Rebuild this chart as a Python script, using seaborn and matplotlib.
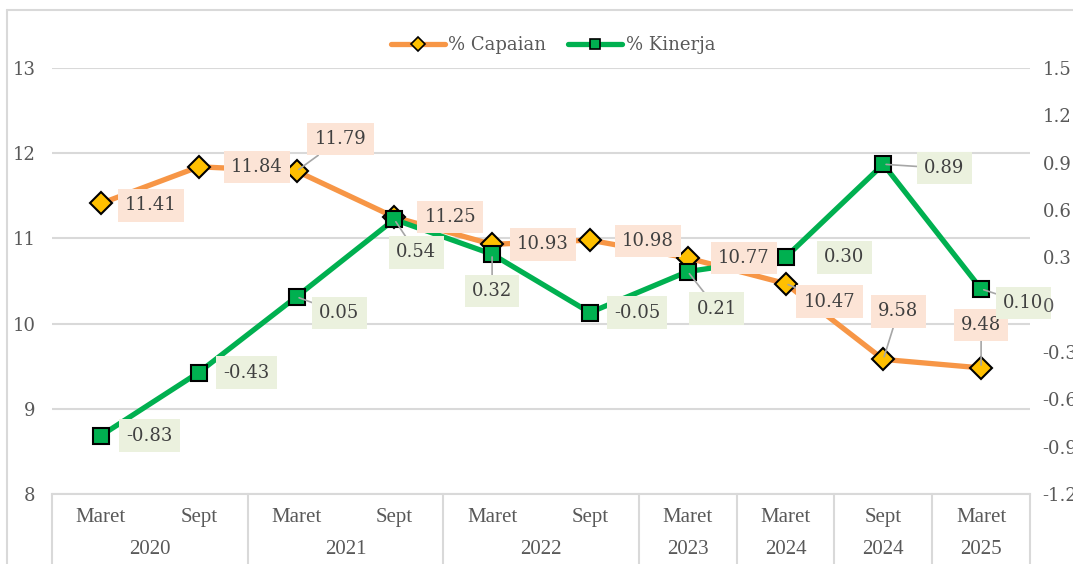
"""Capaian vs Kinerja, Maret 2020 - Maret 2025."""

import matplotlib.pyplot as plt
import matplotlib.transforms as mtransforms
import numpy as np
import pandas as pd
import seaborn as sns
from matplotlib.lines import Line2D

bulan = ["Maret", "Sept", "Maret", "Sept", "Maret", "Sept", "Maret", "Maret", "Sept", "Maret"]
grup_tahun = ["2020", "2021", "2022", "2023", "2024", "2024", "2025"]
grup_jumlah = [2, 2, 2, 1, 1, 1, 1]
capaian = [11.41, 11.84, 11.79, 11.25, 10.93, 10.98, 10.77, 10.47, 9.58, 9.48]
kinerja = [-0.83, -0.43, 0.05, 0.54, 0.32, -0.05, 0.21, 0.30, 0.89, 0.10]

left_ticks = [8, 9, 10, 11, 12, 13]
right_ticks = [-1.2, -0.9, -0.6, -0.3, 0.0, 0.3, 0.6, 0.9, 1.2, 1.5]
right_tick_labels = ["-1.2", "-0.9", "-0.6", "-0.3", "0", "0.3", "0.6", "0.9", "1.2", "1.5"]

# label offsets in pixels (dx, dy downwards) and whether a leader line is drawn
CAP_OFFSETS = [(50, 2), (58, 0), (44, -32), (56, 0), (51, 0), (58, 1), (56, 0), (44, 18), (15, -48), (0, -43)]
CAP_LEADER = [False, False, True, False, False, False, False, True, True, True]
KIN_OFFSETS = [(49, 0), (48, 0), (43, 16), (22, 33), (0, 37), (47, 0), (29, 37), (59, 0), (61, 4), (42, 14)]
KIN_LEADER = [False, False, True, True, True, False, True, False, True, True]

ORANGE = "#F79646"
GOLD = "#FFC000"
GREEN = "#00B050"
GRID = "#D9D9D9"
TEXT = "#404040"

sns.set_theme(style="white")
plt.rcParams["font.family"] = ["DejaVu Serif"]

W, H = 1073, 564
fig = plt.figure(figsize=(W / 100, H / 100), dpi=100)
ax = fig.add_axes([52 / W, 70 / H, 978 / W, 426 / H])
ax2 = ax.twinx()
ax3 = ax.twinx()
ax.set_zorder(1)
ax2.set_zorder(2)
ax3.set_zorder(3)
for a in (ax2, ax3):
    a.patch.set_visible(False)

df = pd.DataFrame({"pos": np.arange(len(bulan)), "capaian": capaian, "kinerja": kinerja})

sns.lineplot(
    data=df, x="pos", y="capaian", ax=ax, sort=False, color=ORANGE, linewidth=3.8,
    marker="D", markersize=11, markerfacecolor=GOLD, markeredgecolor="black", markeredgewidth=1.5,
)
sns.lineplot(
    data=df, x="pos", y="kinerja", ax=ax2, sort=False, color=GREEN, linewidth=3.8,
    marker="s", markersize=12, markerfacecolor=GREEN, markeredgecolor="black", markeredgewidth=1.5,
)

ax.set_xlim(-0.5, len(bulan) - 0.5)
ax.set_ylim(8, 13)
ax2.set_ylim(-1.2, 1.5)
ax3.set_ylim(-1.2, 1.5)

ax.set_yticks(left_ticks)
ax.set_yticklabels([str(t) for t in left_ticks])
ax.tick_params(axis="y", length=0, pad=12, labelsize=13, labelcolor="#595959")
ax.set_xticks([])
ax.set_xlabel("")
ax.set_ylabel("")
ax.yaxis.grid(True, color=GRID, linewidth=1.5)
ax.set_axisbelow(True)
for name, spine in ax.spines.items():
    spine.set_visible(name == "bottom")
ax.spines["bottom"].set_color(GRID)
ax.spines["bottom"].set_linewidth(1.5)

for a in (ax2, ax3):
    a.set_ylabel("")
    a.set_xticks([])
    for spine in a.spines.values():
        spine.set_visible(False)
ax2.set_yticks([])
ax3.set_yticks(right_ticks)
ax3.set_yticklabels(right_tick_labels)
ax3.tick_params(axis="y", length=0, pad=9, labelsize=13, labelcolor="#595959")


def add_labels(values, src_ax, offsets, leaders, fill):
    for i, v in enumerate(values):
        dx, dy = offsets[i]
        ax2.annotate(
            f"{v:.2f}", xy=(i, v), xycoords=src_ax.transData,
            xytext=(dx * 0.72, -dy * 0.72), textcoords="offset points",
            ha="center", va="center", fontsize=13, color=TEXT,
            bbox=dict(boxstyle="square,pad=0.4", fc=fill, ec="none"),
            arrowprops=dict(arrowstyle="-", color="#A6A6A6", lw=1.2, shrinkA=0, shrinkB=2) if leaders[i] else None,
            annotation_clip=False,
        )


add_labels(capaian, ax, CAP_OFFSETS, CAP_LEADER, "#FCE4D6")
add_labels(kinerja, ax2, KIN_OFFSETS, KIN_LEADER, "#EBF1DE")

# multi-level category axis
trans = mtransforms.blended_transform_factory(ax.transData, ax.transAxes)
for i, b in enumerate(bulan):
    ax.text(i, -0.054, b, transform=trans, ha="center", va="center",
            fontsize=15, family="Liberation Serif", color="#595959")

bottom = -70 / 426
ax.plot([-0.5, -0.5], [0, bottom], transform=trans, color=GRID, lw=1.5, clip_on=False)
start = 0
for yr, n in zip(grup_tahun, grup_jumlah):
    end = start + n - 1
    ax.text((start + end) / 2, -0.131, yr, transform=trans, ha="center", va="center",
            fontsize=15, family="Liberation Serif", color="#595959")
    ax.plot([end + 0.5, end + 0.5], [0, bottom], transform=trans, color=GRID, lw=1.5, clip_on=False)
    start = end + 1

# outer chart frame (left and top edges visible)
fig.add_artist(Line2D([7 / W, 7 / W], [0, 1 - 10 / H], transform=fig.transFigure, color=GRID, lw=1.5))
fig.add_artist(Line2D([7 / W, 1], [1 - 10 / H, 1 - 10 / H], transform=fig.transFigure, color=GRID, lw=1.5))

handles = [
    Line2D([], [], color=ORANGE, lw=3.8, marker="D", markersize=7,
           markerfacecolor=GOLD, markeredgecolor="black", markeredgewidth=1.2),
    Line2D([], [], color=GREEN, lw=3.8, marker="s", markersize=7,
           markerfacecolor=GREEN, markeredgecolor="black", markeredgewidth=1.2),
]
fig.legend(handles, ["% Capaian", "% Kinerja"], loc="center", bbox_to_anchor=(553 / W, 1 - 45 / H),
           ncol=2, frameon=False, fontsize=13, handlelength=3.0, handletextpad=0.2,
           columnspacing=1.2, labelcolor="#595959")

fig.savefig("out.png", dpi=100)
